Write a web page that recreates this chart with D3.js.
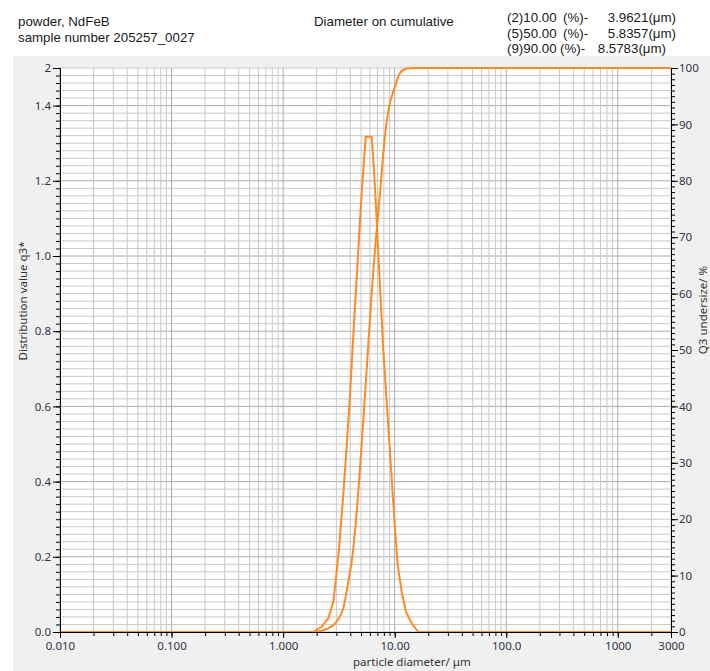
<!DOCTYPE html>
<html lang="en">
<head>
    <meta charset="UTF-8">
    <title>Particle size distribution</title>
    <script src="https://d3js.org/d3.v7.min.js"></script>
    <style>
        body { margin: 0; background: #fff; }
        .head { font-family: "Liberation Sans", Arial, sans-serif; font-size: 13.3px; fill: #1a1a1a; }
        .tick text { font-family: "Noto Sans", "Open Sans", sans-serif; font-size: 11.5px; fill: #33334a; }
        .title { font-family: "Noto Sans", "Open Sans", sans-serif; font-size: 11.5px; fill: #333; }
    </style>
</head>
<body>
    <svg id="chart" width="710" height="671"></svg>

    <script>
        const W = 710, H = 671;
        const plot = { left: 60, right: 671, top: 68, bottom: 632 };

        // density q3* (left axis)
        const densityDiam = [0.01, 1.86, 2.22, 2.54, 2.82, 3.02, 3.19, 3.46, 3.72, 3.98, 4.21, 4.72, 5.06, 5.50,
                             6.22, 6.53, 6.99, 7.39, 7.91, 8.59, 9.40, 10.07, 10.64, 11.56, 12.63, 14.21, 16.28, 3000];
        const densityQ3 = [0, 0, 0.014, 0.036, 0.081, 0.160, 0.231, 0.364, 0.497, 0.630, 0.763, 1.016, 1.167, 1.317,
                           1.317, 1.229, 1.061, 0.918, 0.750, 0.586, 0.409, 0.276, 0.178, 0.107, 0.054, 0.023, 0, 0];

        // cumulative Q3 (right axis, %)
        const cumDiam = [0.01, 1.86, 2.54, 3.02, 3.46, 3.84, 4.12, 4.57, 5.06, 5.42, 5.80, 6.22, 6.66, 7.39,
                         8.19, 8.77, 10.07, 11.16, 12.82, 14.4, 3000];
        const cumQ3 = [0, 0, 0.66, 1.83, 4.2, 8.9, 12.5, 21.3, 33.2, 42.0, 50.9, 60.1, 67.7, 77.8,
                       88.0, 92.4, 96.7, 99.1, 99.9, 100, 100];

        const leftTickValues = [0, 0.2, 0.4, 0.6, 0.8, 1.0, 1.2, 1.4, 1.5];
        const leftTickLabels = ["0.0", "0.2", "0.4", "0.6", "0.8", "1.0", "1.2", "1.4", "2"];
        const rightTickValues = [0, 10, 20, 30, 40, 50, 60, 70, 80, 90, 100];
        const bottomTickValues = [0.01, 0.1, 1, 10, 100, 1000, 3000];
        const bottomTickLabels = ["0.010", "0.100", "1.000", "10.00", "100.0", "1000", "3000"];

        const headerLeft = ["powder, NdFeB", "sample number 205257_0027"];
        const headerMid = "Diameter on cumulative";
        const headerRight = [
            ["(2)10.00", "(%)-", "3.9621(\u03bcm)"],
            ["(5)50.00", "(%)-", "5.8357(\u03bcm)"],
            ["(9)90.00", "(%)-", "8.5783(\u03bcm)"]
        ];

        const svg = d3.select("#chart");

        const x = d3.scaleLog().domain([0.01, 3000]).range([plot.left, plot.right]);
        const yL = d3.scaleLinear().domain([0, 1.5]).range([plot.bottom, plot.top]);
        const yR = d3.scaleLinear().domain([0, 100]).range([plot.bottom, plot.top]);

        // background panels
        svg.append("rect").attr("x", 13).attr("y", 56).attr("width", W - 13).attr("height", H - 56).attr("fill", "#f0f0f0");
        svg.append("rect").attr("x", plot.left).attr("y", plot.top)
            .attr("width", plot.right - plot.left).attr("height", plot.bottom - plot.top).attr("fill", "#fff");

        // grid values
        const xGrid = [];
        for (let e = -2; e <= 3; e++) {
            for (let m = 1; m <= 9; m++) {
                const v = m * Math.pow(10, e);
                if (v > 3000 + 1e-9) break;
                xGrid.push(v);
            }
        }
        const yMinor = d3.range(0, 76).map(i => i * 0.02);

        const grid = svg.append("g");
        grid.selectAll(".hg").data(yMinor).enter().append("line")
            .attr("x1", plot.left).attr("x2", plot.right)
            .attr("y1", d => yL(d)).attr("y2", d => yL(d))
            .attr("stroke", (d, i) => i % 10 === 0 ? "#ababab" : "#c8c8c8")
            .attr("stroke-width", 1);
        grid.selectAll(".vg").data(xGrid).enter().append("line")
            .attr("y1", plot.top).attr("y2", plot.bottom)
            .attr("x1", d => x(d)).attr("x2", d => x(d))
            .attr("stroke", d => Math.abs(Math.log10(d) - Math.round(Math.log10(d))) < 1e-9 ? "#ababab" : "#c8c8c8")
            .attr("stroke-width", 1);

        // curves
        const orange = "#ff8a22";
        const densityLine = d3.line()
            .x((d, i) => x(densityDiam[i]))
            .y(d => yL(d));
        const cumLine = d3.line()
            .x((d, i) => x(cumDiam[i]))
            .y(d => yR(d))
            .curve(d3.curveMonotoneX);

        svg.append("path").datum(densityQ3)
            .attr("d", densityLine)
            .attr("fill", "none").attr("stroke", orange).attr("stroke-width", 2)
            .attr("stroke-linejoin", "round");
        svg.append("path").datum(cumQ3)
            .attr("d", cumLine)
            .attr("fill", "none").attr("stroke", orange).attr("stroke-width", 2)
            .attr("stroke-linejoin", "round");

        function styleAxis(g) {
            g.select(".domain").attr("stroke", "#000");
            g.selectAll(".tick line").attr("stroke", "#000");
        }

        // left axis
        svg.append("g").attr("transform", `translate(${plot.left},0)`)
            .call(d3.axisLeft(yL).tickValues(yMinor.filter(v => v > 0)).tickSize(4).tickSizeOuter(0).tickFormat(""))
            .call(styleAxis);
        svg.append("g").attr("transform", `translate(${plot.left},0)`)
            .call(d3.axisLeft(yL).tickValues(leftTickValues).tickSize(7).tickSizeOuter(0)
                .tickFormat((d, i) => leftTickLabels[i]))
            .call(styleAxis)
            .call(g => g.selectAll(".tick text").attr("x", -9));

        // right axis
        svg.append("g").attr("transform", `translate(${plot.right},0)`)
            .call(d3.axisRight(yR).tickValues(d3.range(1, 100)).tickSize(4).tickSizeOuter(0).tickFormat(""))
            .call(styleAxis);
        svg.append("g").attr("transform", `translate(${plot.right},0)`)
            .call(d3.axisRight(yR).tickValues(rightTickValues).tickSize(7).tickSizeOuter(0).tickFormat(d3.format("d")))
            .call(styleAxis)
            .call(g => g.selectAll(".tick text").attr("x", 8));

        // bottom axis
        svg.append("g").attr("transform", `translate(0,${plot.bottom})`)
            .call(d3.axisBottom(x).tickValues(xGrid).tickSize(4).tickSizeOuter(0).tickFormat(""))
            .call(styleAxis);
        svg.append("g").attr("transform", `translate(0,${plot.bottom})`)
            .call(d3.axisBottom(x).tickValues(bottomTickValues).tickSize(6).tickSizeOuter(0)
                .tickFormat((d, i) => bottomTickLabels[i]))
            .call(styleAxis)
            .call(g => g.selectAll(".tick text").attr("y", 10));

        // axis titles
        svg.append("text").attr("class", "title")
            .attr("transform", "translate(27,301) rotate(-90)")
            .attr("text-anchor", "middle")
            .text("Distribution value q3*");
        svg.append("text").attr("class", "title")
            .attr("transform", "translate(707,310) rotate(-90)")
            .attr("text-anchor", "middle")
            .text("Q3 undersize/ %");
        svg.append("text").attr("class", "title")
            .attr("x", 353).attr("y", 666)
            .text("particle diameter/ \u03bcm");

        // header
        const head = svg.append("g").attr("class", "head");
        head.selectAll(".hl").data(headerLeft).enter().append("text")
            .attr("x", 18).attr("y", (d, i) => 26 + i * 16).text(d => d);
        head.append("text").attr("x", 314).attr("y", 26).text(headerMid);
        const rowY = [22, 37.5, 53];
        const pctX = [563, 563, 560];
        const valEnd = [676, 676, 666];
        headerRight.forEach((row, i) => {
            head.append("text").attr("x", 507).attr("y", rowY[i]).text(row[0]);
            head.append("text").attr("x", pctX[i]).attr("y", rowY[i]).text(row[1]);
            head.append("text").attr("x", valEnd[i]).attr("y", rowY[i]).attr("text-anchor", "end").text(row[2]);
        });
    </script>
</body>
</html>
